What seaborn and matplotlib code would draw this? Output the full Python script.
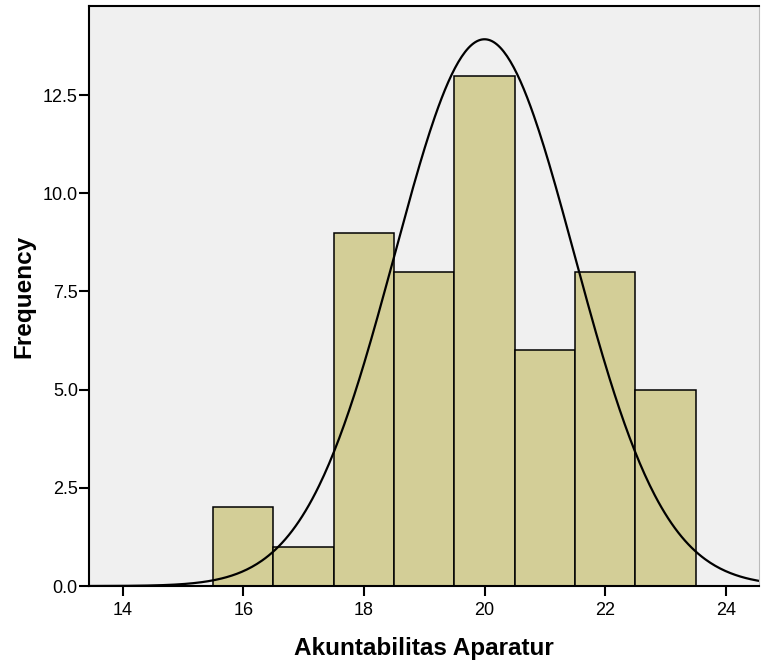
import numpy as np
import pandas as pd
import matplotlib
matplotlib.use("Agg")
import matplotlib.pyplot as plt
import seaborn as sns

# values
scores = [16, 17, 18, 19, 20, 21, 22, 23]
counts = [2, 1, 9, 8, 13, 6, 8, 5]
bin_edges = [15.5, 16.5, 17.5, 18.5, 19.5, 20.5, 21.5, 22.5, 23.5]

# normal curve parameters (as drawn by SPSS)
n_total = sum(counts)
mean_val = 20.0
sd_val = 1.49

sns.set_style("ticks")
plt.rcParams['font.family'] = ['Liberation Sans', 'DejaVu Sans']

fig = plt.figure(figsize=(7.63, 6.67), dpi=100)
ax = fig.add_axes([0.1166, 0.1214, 0.878, 0.8696])
ax.set_facecolor('#f0f0f0')

df = pd.DataFrame({'score': scores, 'count': counts})
sns.histplot(data=df, x='score', weights='count', bins=bin_edges, ax=ax,
             color='#d3ce97', alpha=1, edgecolor='black', linewidth=1.1)

xs = np.linspace(13.44, 24.55, 400)
ys = n_total / (sd_val * np.sqrt(2 * np.pi)) * np.exp(-0.5 * ((xs - mean_val) / sd_val) ** 2)
sns.lineplot(x=xs, y=ys, ax=ax, color='black', linewidth=1.6)

ax.set_xlim(13.44, 24.55)
ax.set_ylim(0, 14.77)
ax.set_xticks([14, 16, 18, 20, 22, 24])
ax.set_yticks([0, 2.5, 5, 7.5, 10, 12.5])
ax.set_yticklabels(['0.0', '2.5', '5.0', '7.5', '10.0', '12.5'])
ax.tick_params(direction='out', length=7, width=1.5, labelsize=13,
               colors='black', labelcolor='black')
ax.tick_params(axis='x', pad=4.5)
ax.tick_params(axis='y', pad=1)

for side in ['left', 'bottom', 'top']:
    ax.spines[side].set_linewidth(1.5)
    ax.spines[side].set_color('black')
ax.spines['right'].set_visible(True)
ax.spines['right'].set_color('#bbbbbb')
ax.spines['right'].set_linewidth(0.8)

ax.set_xlabel('Akuntabilitas Aparatur', fontsize=17.5, fontweight='bold',
              labelpad=13, color='black')
ax.set_ylabel('Frequency', fontsize=17.5, fontweight='bold',
              labelpad=5.5, color='black')

fig.savefig('out.png', dpi=100)
